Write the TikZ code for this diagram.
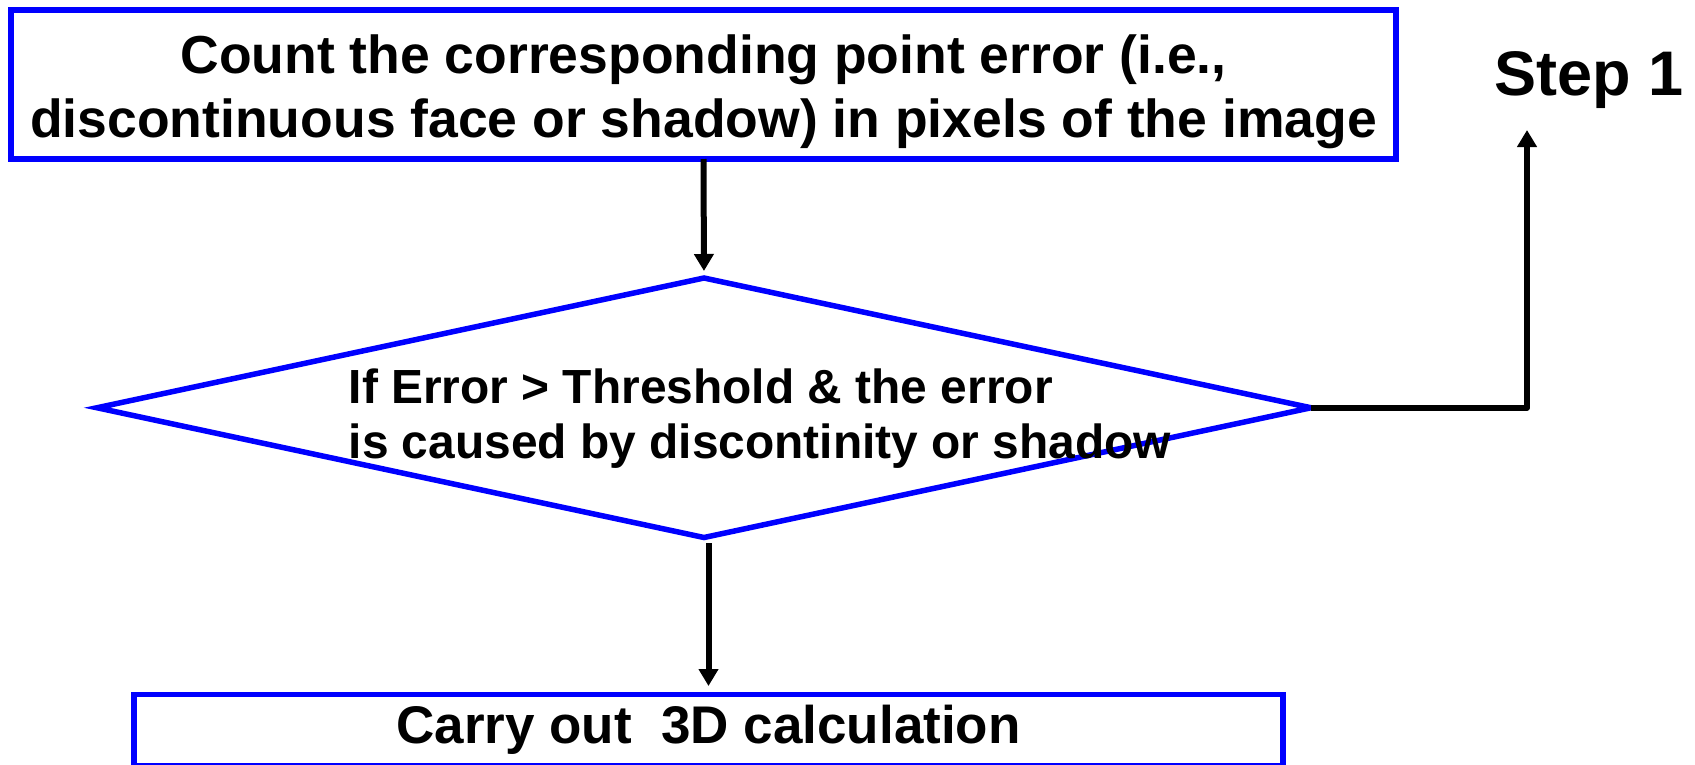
\documentclass[tikz,border=0pt]{standalone}
\usepackage{fontspec}
\setmainfont{Liberation Sans}
\usetikzlibrary{arrows.meta,shapes.geometric}
\definecolor{boxblue}{RGB}{0,0,255}
\begin{document}
\begin{tikzpicture}[x=1pt,y=-1pt,
  box/.style={draw=boxblue, line width=5.5pt, rectangle, inner sep=0pt, outer sep=0pt},
  flow/.style={draw=black, line width=6pt, -{Triangle[width=19pt,length=17pt]}}]
\useasboundingbox (0,0) rectangle (1695,764);
\fill[white] (0,0) rectangle (1695,764);

\node[box, minimum width=1385pt, minimum height=149pt, text height=45pt, text depth=68pt,
      font=\bfseries\fontsize{53.5}{64}\selectfont] (count) at (703.5,84.5)
  {\begin{tabular}[t]{@{}c@{}}Count the corresponding point error (i.e.,\\discontinuous face or shadow) in pixels of the image\end{tabular}};

\node[diamond, draw=boxblue, line width=5.5pt, inner sep=0pt, outer sep=0pt,
      minimum width=1214pt, minimum height=259.5pt] (dec) at (704,407.75) {};

\node[anchor=base west, inner sep=0pt, font=\bfseries\fontsize{47.9}{55}\selectfont] (dectext) at (348.5,403)
  {\begin{tabular}[t]{@{}l@{}}If Error > Threshold \& the error\\is caused by discontinity or shadow\end{tabular}};

\node[anchor=base west, inner sep=0pt, font=\bfseries\fontsize{63}{72}\selectfont] (step) at (1494.5,95) {Step 1};

\node[box, minimum width=1149pt, minimum height=71.5pt, text height=40pt, text depth=14pt,
      font=\bfseries\fontsize{53}{62}\selectfont] (calc) at (708.5,730.25) {Carry out\ \ 3D calculation};

\coordinate (stepin) at (1527,130);

\draw[flow, shorten >=7pt] (count.south) -- (dec.north);
\draw[flow, shorten <=5.5pt, shorten >=8.5pt] (calc.north |- dec.south) -- (calc.north);
\draw[flow, line join=round] (dec.east) -| (stepin);
\end{tikzpicture}
\end{document}
